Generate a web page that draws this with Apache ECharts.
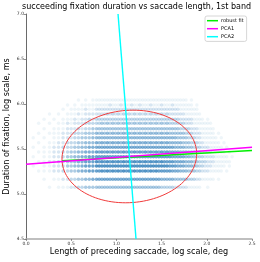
<!DOCTYPE html>
<html><head><meta charset="utf-8">
<script src="https://cdn.jsdelivr.net/npm/echarts@6/dist/echarts.min.js"></script>
<style>html,body{margin:0;padding:0;background:#fff}#c{width:260px;height:262px}</style>
</head><body><div id="c"></div>
<script>
// Discrete saccade-length columns (log deg)
const xCols = [0.08,0.14,0.20,0.26,0.31,0.36,0.41,0.46,
  0.50,0.54,0.58,0.62,0.66,0.70,0.74,0.78,
  0.81,0.84,0.87,0.90,0.93,0.96,0.99,1.02,1.05,1.08,1.11,1.14,1.17,1.20,
  1.23,1.26,1.29,1.32,1.35,1.38,1.41,1.44,1.47,1.50,1.53,1.56,1.59,1.62,1.65,1.68,
  1.71,1.74,1.77,1.80,1.83,1.86,1.89,1.92,1.95,1.98,
  2.01,2.04,2.07,2.10,2.13,2.16,2.19,2.22,2.25,2.28];
// Discrete fixation-duration rows (log ms), top to bottom
const yRows = [6.044,5.989,5.941,5.889,5.830,5.786,5.726,5.674,5.626,5.570,5.519,5.467,5.414,5.359,5.311,5.256,5.163,5.074];
// Point density per cell (0 = none), one string per row, one digit per column
const density = [
 "00000000 00101011 11111111111111 1111111111111111 1110100000 0000000000",
 "00000001 01011111 11112111211121 1211121112111211 1111101000 0000000000",
 "00000010 11112112 22222222222222 2222222222222222 1111111000 0000000000",
 "00010101 11212222 22232323232323 2323232323232222 2211111100 0000000000",
 "00101011 12122323 33333333333333 3333333333333333 2222211110 1000000000",
 "01010112 12223333 34343434343434 3434343434343333 3322211111 1100000000",
 "00101112 22323344 44444444444444 4444444444444444 3333222111 1110000000",
 "01011122 23334445 45454545454545 4545454545454444 4433322211 1110100000",
 "10101122 23344455 55555555555555 5555555555555554 4443332211 1111010000",
 "01011223 33445556 56565656565656 5656565656565555 5444333221 1111101000",
 "10112233 34455666 66666666666666 6666666666666655 5544433322 2111110100",
 "01112233 44556667 67676767676767 6767676767676666 5554443322 2211111010",
 "10112234 45566777 77777777777777 7777777777777666 6655443332 2221111101",
 "01122334 45667778 78787878787878 7878787878777766 6655544333 2221111110",
 "10112234 45567778 88888888888888 8888888888887776 6655544332 2211111010",
 "01112233 44566777 78787878787878 7878787877777666 5554443322 2111110100",
 "00101122 33445566 66666666666666 6666666665555544 4443332211 1110100000",
 "00010111 22334444 44444444444444 4444444443333322 2221111100 1000000000"
];
const robustFit = [[0.40,5.370],[2.50,5.483]];
const pca1 = [[0.0,5.331],[2.5,5.519]];
const pca2 = [[1.018,7.0],[1.217,4.5]];
const ellCenter = [1.143,5.417];
const ellAxes = [0.746,0.513];
const ellAngle = 0.075; // slope of major axis (PCA1)

const pts = [];
density.forEach((row, ri) => {
  const s = row.replace(/ /g,'');
  for (let ci = 0; ci < xCols.length && ci < s.length; ci++) {
    const d = +s[ci];
    if (d > 0) pts.push([xCols[ci], yRows[ri], d]);
  }
});
const th = Math.atan(ellAngle);
const ell = [];
for (let i = 0; i <= 120; i++) {
  const t = i / 120 * 2 * Math.PI;
  const u = ellAxes[0]*Math.cos(t), v = ellAxes[1]*Math.sin(t);
  ell.push([ellCenter[0] + u*Math.cos(th) - v*Math.sin(th), ellCenter[1] + u*Math.sin(th) + v*Math.cos(th)]);
}

const ff = 'DejaVu Sans';
const legIcon = 'rect';
const chart = echarts.init(document.getElementById('c'), null, {renderer:'canvas'});
chart.setOption({
  animation:false,
  textStyle:{fontFamily:ff},
  title:{text:'succeeding fixation duration vs saccade length, 1st band', left:22, top:3, padding:0,
    textStyle:{fontSize:8, fontWeight:'normal', color:'#000', fontFamily:ff}},
  grid:{left:26, right:8, top:14, bottom:23, containLabel:false, outerBoundsMode:'none'},
  legend:{orient:'vertical', left:205, top:16, itemWidth:11, itemHeight:1.5, itemGap:2.6,
    padding:[2,3,2,2], borderColor:'#ccc', borderWidth:0.8, borderRadius:2, backgroundColor:'#fff',
    data:[{name:'robust fit',icon:legIcon},{name:'PCA1',icon:legIcon},{name:'PCA2',icon:legIcon}],
    textStyle:{fontSize:5, lineHeight:5.4, color:'#000', fontFamily:ff, padding:[0,0,0,-2]}},
  visualMap:{show:false, type:'continuous', seriesIndex:0, dimension:2, min:1, max:9,
    inRange:{opacity:[0.08,0.9]}},
  xAxis:{type:'value', min:0, max:2.5, interval:0.5,
    name:'Length of preceding saccade, log scale, deg', nameLocation:'middle', nameGap:9, nameMoveOverlap:false,
    nameTextStyle:{fontSize:8.1, color:'#000', fontFamily:ff},
    axisLine:{show:true, lineStyle:{color:'#aaa', width:1.5}},
    axisTick:{show:true, length:2, lineStyle:{color:'#555', width:0.6}},
    axisLabel:{fontSize:4.5, color:'#333', margin:2, formatter:v=>v.toFixed(1)},
    splitLine:{show:false}},
  yAxis:{type:'value', min:4.5, max:7.0, interval:0.5,
    name:'Duration of fixation, log scale, ms', nameLocation:'middle', nameGap:15, nameMoveOverlap:false,
    nameTextStyle:{fontSize:8.1, color:'#000', fontFamily:ff},
    axisLine:{show:true, lineStyle:{color:'#444', width:0.8}},
    axisTick:{show:true, length:2, lineStyle:{color:'#444', width:0.6}},
    axisLabel:{fontSize:4.5, color:'#333', margin:2, formatter:v=>v.toFixed(1)},
    splitLine:{show:false}},
  series:[
    {type:'scatter', data:pts, symbol:'circle', symbolSize:3.5, itemStyle:{color:'#2a7ab8'}, silent:true, z:1},
    {type:'line', data:ell, showSymbol:false, symbol:'none', lineStyle:{color:'#f03a3a', width:1}, clip:true, z:2, silent:true},
    {name:'robust fit', type:'line', data:robustFit, symbol:'none', lineStyle:{color:'#00ee00', width:1.4}, itemStyle:{color:'#00ee00'}, clip:true, z:3},
    {name:'PCA1', type:'line', data:pca1, symbol:'none', lineStyle:{color:'#ff00ff', width:1.4}, itemStyle:{color:'#ff00ff'}, clip:true, z:4},
    {name:'PCA2', type:'line', data:pca2, symbol:'none', lineStyle:{color:'#00ffff', width:1.4}, itemStyle:{color:'#00ffff'}, clip:true, z:5}
  ]
});
</script></body></html>
